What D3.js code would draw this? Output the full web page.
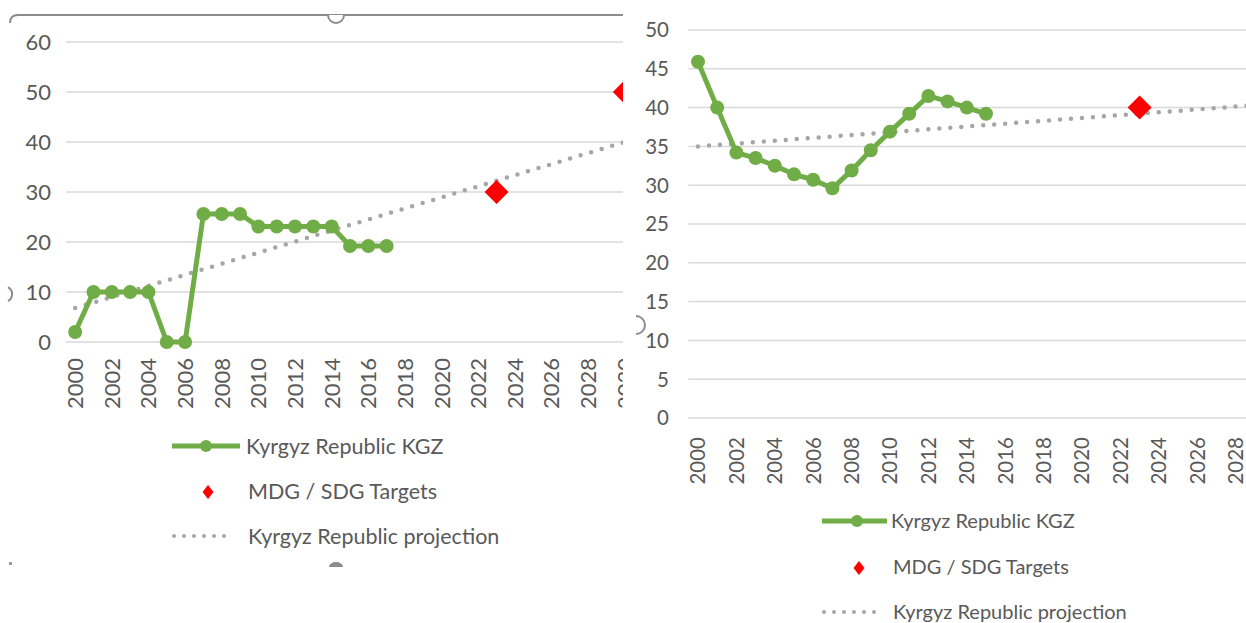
<!DOCTYPE html>
<html>
<head>
<meta charset="utf-8">
<script src="https://cdn.jsdelivr.net/npm/d3@7"></script>
<style>
  body { margin: 0; padding: 0; background: #fff; }
  svg { display: block; }
  text { font-family: Lato, "Open Sans", sans-serif; fill: #595959; }
</style>
</head>
<body>
<script>
// data
var leftYears  = [2000, 2001, 2002, 2003, 2004, 2005, 2006, 2007, 2008, 2009, 2010, 2011, 2012, 2013, 2014, 2015, 2016, 2017];
var leftValues = [2, 10, 10, 10, 10, 0, 0, 25.6, 25.6, 25.6, 23.1, 23.1, 23.1, 23.1, 23.1, 19.2, 19.2, 19.2];
var leftTargetYears  = [2023, 2030];
var leftTargetValues = [30, 50];
var leftProjYears  = [2000, 2030];
var leftProjValues = [6.8, 40];
var leftYTicks = [0, 10, 20, 30, 40, 50, 60];

var rightYears  = [2000, 2001, 2002, 2003, 2004, 2005, 2006, 2007, 2008, 2009, 2010, 2011, 2012, 2013, 2014, 2015];
var rightValues = [45.9, 40, 34.2, 33.5, 32.5, 31.4, 30.7, 29.6, 31.9, 34.5, 36.9, 39.2, 41.5, 40.8, 40, 39.2];
var rightTargetYears  = [2023];
var rightTargetValues = [40];
var rightProjYears  = [2000, 2030];
var rightProjValues = [35.0, 40.5];
var rightYTicks = [0, 5, 10, 15, 20, 25, 30, 35, 40, 45, 50];

var xTickYears = [2000, 2002, 2004, 2006, 2008, 2010, 2012, 2014, 2016, 2018, 2020, 2022, 2024, 2026, 2028, 2030];
var legendLabels = ["Kyrgyz Republic KGZ", "MDG / SDG Targets", "Kyrgyz Republic projection"];

var GREEN = "#70ad47", RED = "#ff0000", GRID = "#d9d9d9", PROJ = "#a6a6a6", FRAME = "#8c8c8c";

var width = 1246, height = 623;
var svg = d3.select("body").append("svg")
    .attr("width", width)
    .attr("height", height);

var defs = svg.append("defs");

function diamond(cx, cy, hw, hh) {
    return "M" + cx + "," + (cy - hh) + "L" + (cx + hw) + "," + cy +
        "L" + cx + "," + (cy + hh) + "L" + (cx - hw) + "," + cy + "Z";
}

function drawPanel(p) {
    defs.append("clipPath").attr("id", p.id)
        .append("rect")
        .attr("x", p.clip[0]).attr("y", 0)
        .attr("width", p.clip[1] - p.clip[0]).attr("height", height);

    var g = svg.append("g").attr("clip-path", "url(#" + p.id + ")");

    var x = d3.scaleLinear().domain([1999.5, 2030.5]).range(p.xRange);
    var y = d3.scaleLinear().domain([0, p.yMax]).range(p.yRange);

    // gridlines
    g.append("g").selectAll("line")
        .data(p.yTicks)
        .enter().append("line")
        .attr("x1", p.xRange[0]).attr("x2", p.xRange[1])
        .attr("y1", function(d) { return y(d); })
        .attr("y2", function(d) { return y(d); })
        .style("stroke", GRID)
        .style("stroke-width", 1.5);

    // y tick labels
    g.append("g").selectAll("text")
        .data(p.yTicks)
        .enter().append("text")
        .attr("x", p.yLabelX)
        .attr("y", function(d) { return y(d); })
        .attr("dy", "0.36em")
        .attr("text-anchor", "end")
        .attr("font-size", p.fontSize)
        .text(function(d) { return d; });

    // x tick labels, rotated (only the ones that show in the panel)
    g.append("g").selectAll("text")
        .data(xTickYears.filter(function(d) { return x(d) - 6 < p.clip[1]; }))
        .enter().append("text")
        .attr("transform", function(d) { return "translate(" + x(d) + "," + p.xLabelY + ") rotate(-90)"; })
        .attr("dy", "0.36em")
        .attr("text-anchor", "end")
        .attr("font-size", p.fontSize)
        .text(function(d) { return d; });

    // projection (dotted trend)
    var proj = p.projYears.map(function(d, i) { return [d, p.projValues[i]]; });
    g.append("path")
        .datum(proj)
        .attr("d", d3.line().x(function(d) { return x(d[0]); }).y(function(d) { return y(d[1]); }))
        .style("fill", "none")
        .style("stroke", PROJ)
        .style("stroke-width", 4.5)
        .style("stroke-linecap", "round")
        .style("stroke-dasharray", "0 11");

    // actual series
    var series = p.years.map(function(d, i) { return [d, p.values[i]]; });
    g.append("path")
        .datum(series)
        .attr("d", d3.line().x(function(d) { return x(d[0]); }).y(function(d) { return y(d[1]); }))
        .style("fill", "none")
        .style("stroke", GREEN)
        .style("stroke-width", 5)
        .style("stroke-linejoin", "round");

    g.append("g").selectAll("circle")
        .data(series)
        .enter().append("circle")
        .attr("cx", function(d) { return x(d[0]); })
        .attr("cy", function(d) { return y(d[1]); })
        .attr("r", 7)
        .style("fill", GREEN);

    // targets
    g.append("g").selectAll("path")
        .data(p.targetYears)
        .enter().append("path")
        .attr("d", function(d, i) { return diamond(x(d), y(p.targetValues[i]), 12, 12); })
        .style("fill", RED);

    // legend
    var L = p.legend;
    var lg = g.append("g");
    lg.append("line")
        .attr("x1", L.x0).attr("x2", L.x1)
        .attr("y1", L.ys[0]).attr("y2", L.ys[0])
        .style("stroke", GREEN).style("stroke-width", 5);
    lg.append("circle")
        .attr("cx", L.mx).attr("cy", L.ys[0]).attr("r", 6)
        .style("fill", GREEN);
    lg.append("path")
        .attr("d", diamond(L.mx + 2, L.ys[1] + 1, 5.5, 7))
        .style("fill", RED);
    lg.append("line")
        .attr("x1", L.x0 + 2).attr("x2", L.x1 - 6)
        .attr("y1", L.ys[2]).attr("y2", L.ys[2])
        .style("stroke", PROJ).style("stroke-width", 4)
        .style("stroke-linecap", "round")
        .style("stroke-dasharray", "0 10");
    lg.selectAll("text")
        .data(legendLabels)
        .enter().append("text")
        .attr("x", function(d, i) { return L.tx[i]; })
        .attr("y", function(d, i) { return L.ys[i]; })
        .attr("dy", "0.36em")
        .attr("font-size", p.legendSize)
        .text(function(d) { return d; });

    return g;
}

var left = drawPanel({
    id: "clipL", clip: [0, 623],
    xRange: [66, 634], yRange: [342, 42], yMax: 60,
    yTicks: leftYTicks, yLabelX: 51, xLabelY: 358, fontSize: 22,
    years: leftYears, values: leftValues,
    targetYears: leftTargetYears, targetValues: leftTargetValues,
    projYears: leftProjYears, projValues: leftProjValues,
    legendSize: 21.5,
    legend: { x0: 172, x1: 240, mx: 206, ys: [446, 491, 536], tx: [246, 248, 248] }
});

var right = drawPanel({
    id: "clipR", clip: [623, 1246],
    xRange: [688.4, 1283.6], yRange: [418, 30], yMax: 50,
    yTicks: rightYTicks, yLabelX: 669, xLabelY: 437, fontSize: 20.5,
    years: rightYears, values: rightValues,
    targetYears: rightTargetYears, targetValues: rightTargetValues,
    projYears: rightProjYears, projValues: rightProjValues,
    legendSize: 20,
    legend: { x0: 822, x1: 887, mx: 857, ys: [521, 567, 612], tx: [891, 893, 893] }
});

// selection frame pieces of the left chart (it was selected in the screenshot)
left.append("path")
    .attr("d", "M10,23 Q10,15 18,15 L623,15")
    .style("fill", "none").style("stroke", FRAME).style("stroke-width", 2);
left.append("path")
    .attr("d", "M328,15 A8,8 0 0,0 344,15")
    .style("fill", "#fff").style("stroke", FRAME).style("stroke-width", 2);
left.append("path")
    .attr("d", "M8,287 A8,8 0 0,1 8,301")
    .style("fill", "none").style("stroke", FRAME).style("stroke-width", 2);
left.append("path")
    .attr("d", "M329,567 A7,5 0 0,1 343,567 Z")
    .style("fill", FRAME);
left.append("rect")
    .attr("x", 9).attr("y", 562).attr("width", 3).attr("height", 3)
    .style("fill", "#999");
right.append("path")
    .attr("d", "M636,316 A9,9 0 0,1 636,334")
    .style("fill", "none").style("stroke", FRAME).style("stroke-width", 2);
</script>
</body>
</html>
